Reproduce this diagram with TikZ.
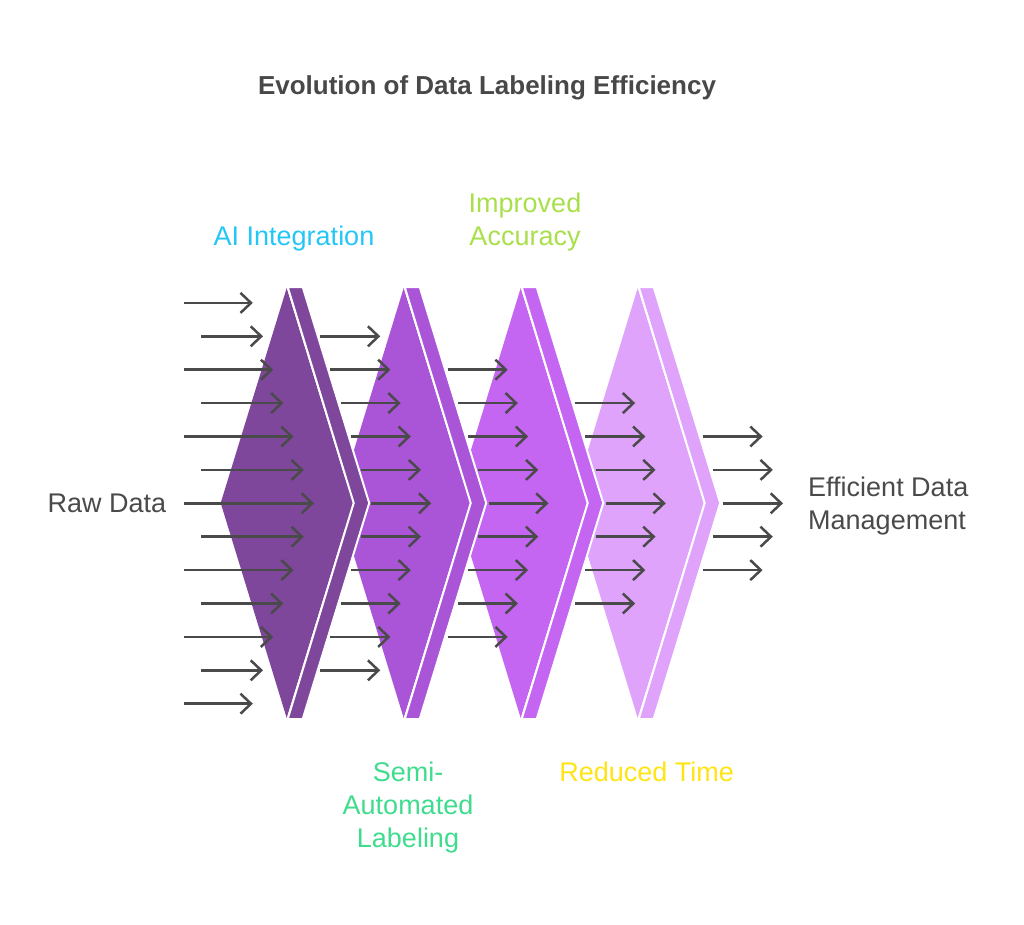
\documentclass[tikz,border=0pt]{standalone}
\usepackage{fontspec}
\setmainfont{Liberation Sans}
\usetikzlibrary{arrows.meta}
\definecolor{pA}{HTML}{7F479C}
\definecolor{pB}{HTML}{AA55D8}
\definecolor{pC}{HTML}{C466F2}
\definecolor{pD}{HTML}{DFA3FC}
\definecolor{ink}{HTML}{4A4A4A}
\definecolor{titlegray}{HTML}{484848}
\definecolor{cyanl}{HTML}{24C6F6}
\definecolor{limel}{HTML}{A8DF4A}
\definecolor{greenl}{HTML}{3FDC8E}
\definecolor{yellowl}{HTML}{FFE414}
\begin{document}
\begin{tikzpicture}[x=1pt,y=-1pt,
  arr/.style={draw=ink, line width=2.5pt, -{Straight Barb[length=10.5pt,width=20pt]}},
  lbl/.style={font=\fontsize{27}{33}\selectfont, align=center, inner sep=0pt},
  band/.style={draw=white, line width=2pt, line join=miter}]
\useasboundingbox (0,0) rectangle (1024,924);
% chevrons, right to left so each band lies over the next diamond
\foreach \g/\c in {3/pD,2/pC,1/pB,0/pA}{
  \pgfmathsetmacro\tx{286.7+117*\g}
  \fill[\c] (\tx,288) -- (\tx+66,503) -- (\tx,718) -- (\tx-66,503) -- cycle;
  \filldraw[band, fill=\c] (\tx+1,287) -- (\tx+16,287) -- (\tx+82.5,503)
     -- (\tx+16,719) -- (\tx+1,719) -- (\tx+67,503) -- cycle;
}
% arrows
\foreach \g/\n in {0/6,1/5,2/4,3/3,4/2}{
  \foreach \k in {-\n,...,\n}{
    \pgfmathsetmacro\tip{314+117.25*\g-10.2*abs(\k)}
    \pgfmathsetmacro\st{ifthenelse(\g==0, ifthenelse(mod(abs(\k),2)==1,201,184), \tip-60)}
    \pgfmathsetmacro\yy{503.3+33.4*\k}
    \coordinate (s\g-\k) at (\st,\yy);
    \coordinate (t\g-\k) at (\tip,\yy);
    \draw[arr] (s\g-\k) -- (t\g-\k);
  }
}
% labels (anchor=base is the baseline of the last line)
\node[lbl, text=titlegray, font=\bfseries\fontsize{26}{30}\selectfont, anchor=base] (title) at (487,94) {Evolution of Data Labeling Efficiency};
\node[lbl, text=cyanl, anchor=base] (ai) at (294,245) {AI Integration};
\node[lbl, text=limel, anchor=base] (acc) at (525,245) {Improved\\Accuracy};
\node[lbl, text=greenl, anchor=base] (semi) at (408,847) {Semi-\\Automated\\Labeling};
\node[lbl, text=yellowl, anchor=base] (red) at (646.7,781.7) {Reduced Time};
\node[lbl, text=ink, anchor=base] (raw) at (107,512.5) {Raw Data};
\node[lbl, text=ink, align=left, anchor=base west] (eff) at (808,529.5) {Efficient Data\\Management};
\end{tikzpicture}
\end{document}
